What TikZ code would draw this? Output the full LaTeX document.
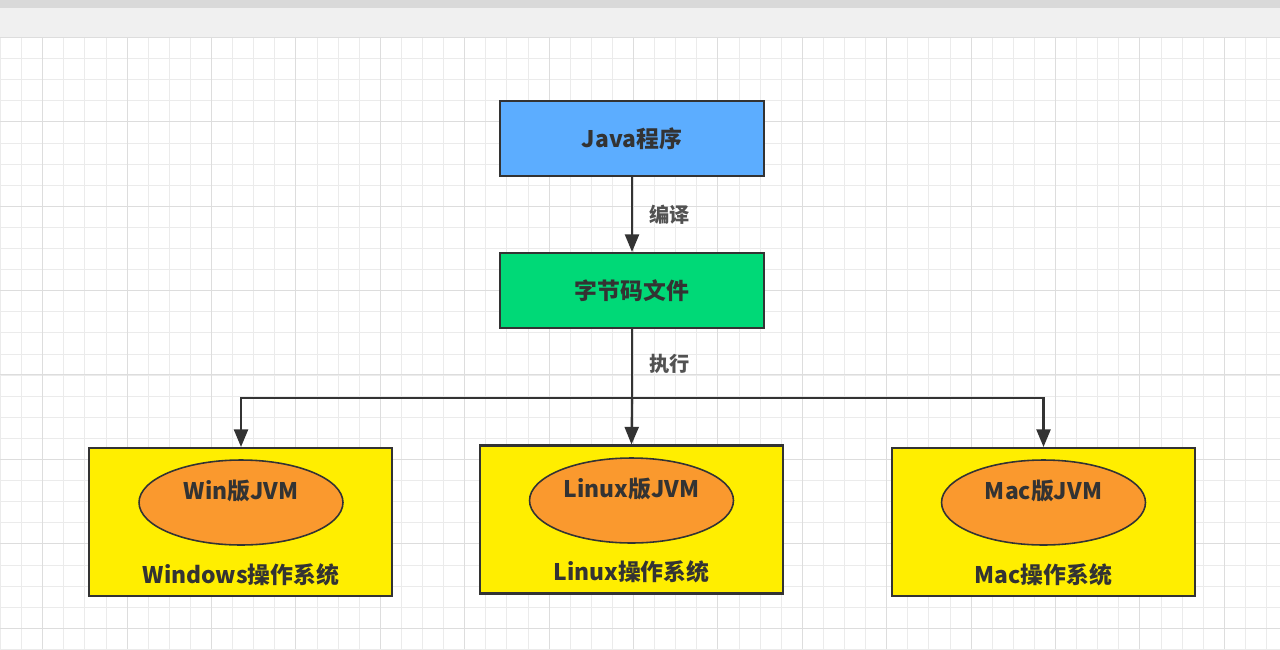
\documentclass[tikz,border=0pt]{standalone}
\usepackage{fontspec}
\setmainfont{Noto Sans CJK SC}
\usepackage{xcolor}
\usepackage{tikz}
\usetikzlibrary{shapes,arrows,positioning,calc,arrows.meta}

\definecolor{javablue}{HTML}{5CADFF}
\definecolor{codegreen}{HTML}{00D977}
\definecolor{osyellow}{HTML}{FFEE00}
\definecolor{jvmorange}{HTML}{FA992E}
\definecolor{inkgray}{HTML}{333333}
\definecolor{gridminor}{HTML}{EBEBEB}
\definecolor{gridmajor}{HTML}{DDDDDD}

\tikzset{
    box/.style={rectangle, draw=inkgray, line width=1.2pt, minimum width=5.28cm, minimum height=1.5cm, font=\bfseries\fontsize{13}{15}\selectfont, text=inkgray},
    osbox/.style={rectangle, draw=inkgray, fill=osyellow, line width=1.2pt, minimum width=6.06cm, minimum height=2.96cm},
    jvm/.style={ellipse, draw=inkgray, fill=jvmorange, line width=0.9pt, minimum width=4.08cm, minimum height=1.7cm},
    lbl/.style={font=\bfseries\fontsize{13}{15}\selectfont, text=inkgray},
    edgelbl/.style={font=\bfseries\fontsize{11.5}{14}\selectfont, text=inkgray!85},
    conn/.style={draw=inkgray, line width=1.2pt},
    gridline/.style={line width=0.567pt},
}

\begin{document}
\begin{tikzpicture}[x=0.02cm, y=-0.02cm, >={Triangle[length=10pt, width=8pt]}]
    % background and window bars
    \useasboundingbox (0,0) rectangle (1280,649);
    \fill[white] (0,0) rectangle (1280,649);
    \fill[black!15] (0,0) rectangle (1280,8);
    \fill[black!6] (0,8) rectangle (1280,37);
    % grid, snapped to pixel centres
    \foreach \i in {0,...,61} {
        \pgfmathtruncatemacro{\gx}{round(\i*21.1)}
        \draw[gridminor, gridline] (\gx+0.5,37) -- (\gx+0.5,649);
    }
    \foreach \j in {0,...,29} {
        \pgfmathtruncatemacro{\gy}{round(37+\j*21.1)}
        \draw[gridminor, gridline] (0,\gy+0.5) -- (1280,\gy+0.5);
    }
    \foreach \i in {0,...,15} {
        \pgfmathtruncatemacro{\gx}{round(42.2+\i*84.4)}
        \draw[gridmajor, gridline] (\gx+0.5,37) -- (\gx+0.5,649);
    }
    \foreach \j in {0,...,7} {
        \pgfmathtruncatemacro{\gy}{round(36.9+\j*84.4)}
        \draw[gridmajor, gridline] (0,\gy+0.5) -- (1280,\gy+0.5);
    }

    % top boxes
    \node[box, fill=javablue] (java) at (632,138.5) {Java程序};
    \node[box, fill=codegreen] (bytecode) at (632,290.5) {字节码文件};

    % operating system boxes
    \node[osbox] (win) at (240.5,522) {};
    \node[osbox] (linux) at (631.5,519.5) {};
    \node[osbox] (mac) at (1043.5,522) {};

    \node[jvm] (winjvm) at (241,502.5) {};
    \node[jvm] (linuxjvm) at (631.5,500.5) {};
    \node[jvm] (macjvm) at (1043.5,502.5) {};

    \node[lbl] at (241,491) {Win版JVM};
    \node[lbl] at (631.5,489) {Linux版JVM};
    \node[lbl] at (1043.5,491) {Mac版JVM};

    \node[lbl] at (241,575) {Windows操作系统};
    \node[lbl] at (631.5,572) {Linux操作系统};
    \node[lbl] at (1043.5,575) {Mac操作系统};

    % connectors
    \coordinate (split) at (632,398);
    \draw[conn, ->] (java) -- (bytecode) node[midway, right=6pt, edgelbl] {编译};
    \draw[conn] (bytecode) -- (split) node[pos=0.5, right=6pt, edgelbl] {执行};
    \draw[conn, ->] (split) -- (linux.north);
    \draw[conn, ->] (split) -| (win.north -| winjvm);
    \draw[conn, ->] (split) -| (mac.north -| macjvm);
\end{tikzpicture}
\end{document}
